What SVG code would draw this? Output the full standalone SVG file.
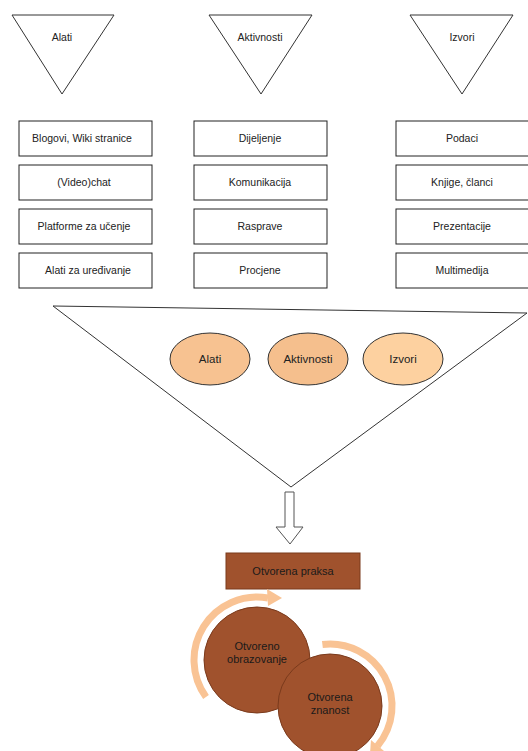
<svg xmlns="http://www.w3.org/2000/svg" width="528" height="751" viewBox="0 0 528 751">
<style>
.tri{fill:#fff;stroke:#333;stroke-width:1}
.box{fill:#fff;stroke:#222;stroke-width:1}
.t{font-family:"Liberation Sans",Arial,sans-serif;font-size:10.5px;fill:#222;text-anchor:middle}
.te{font-family:"Liberation Sans",Arial,sans-serif;font-size:11.5px;fill:#222;text-anchor:middle}
.tc{font-family:"Liberation Sans",Arial,sans-serif;font-size:11px;fill:#1a1a1a;text-anchor:middle}
.ell{stroke:#333;stroke-width:1}
.circ{fill:#A0522D;stroke:#7a3a1c;stroke-width:1}
.arc{fill:none;stroke:#F9C394;stroke-width:7}
.head{fill:#F9C394}
</style>
<rect width="528" height="751" fill="#fff"/>
<g id="tri-alati"><polygon class="tri" points="12,15 114,15 62,94"/><text class="t" x="62" y="41">Alati</text></g>
<g id="tri-aktivnosti"><polygon class="tri" points="209,15 312,15 261,94"/><text class="t" x="260" y="41">Aktivnosti</text></g>
<g id="tri-izvori"><polygon class="tri" points="410,15 513,15 462,94"/><text class="t" x="462" y="41">Izvori</text></g>

<g id="b1"><rect class="box" x="19" y="121" width="133" height="35"/><text class="t" x="82" y="142">Blogovi, Wiki stranice</text></g>
<g id="b2"><rect class="box" x="19" y="165" width="133" height="35"/><text class="t" x="84" y="186">(Video)chat</text></g>
<g id="b3"><rect class="box" x="19" y="209" width="133" height="35"/><text class="t" x="84" y="230">Platforme za učenje</text></g>
<g id="b4"><rect class="box" x="19" y="253" width="133" height="35"/><text class="t" x="88" y="274">Alati za uređivanje</text></g>

<g id="b5"><rect class="box" x="194" y="121" width="133" height="35"/><text class="t" x="260" y="142">Dijeljenje</text></g>
<g id="b6"><rect class="box" x="194" y="165" width="133" height="35"/><text class="t" x="260" y="186">Komunikacija</text></g>
<g id="b7"><rect class="box" x="194" y="209" width="133" height="35"/><text class="t" x="260" y="230">Rasprave</text></g>
<g id="b8"><rect class="box" x="194" y="253" width="133" height="35"/><text class="t" x="260" y="274">Procjene</text></g>

<g id="b9"><rect class="box" x="396" y="121" width="133" height="35"/><text class="t" x="462" y="142">Podaci</text></g>
<g id="b10"><rect class="box" x="396" y="165" width="133" height="35"/><text class="t" x="462" y="186">Knjige, članci</text></g>
<g id="b11"><rect class="box" x="396" y="209" width="133" height="35"/><text class="t" x="462" y="230">Prezentacije</text></g>
<g id="b12"><rect class="box" x="396" y="253" width="133" height="35"/><text class="t" x="462" y="274">Multimedija</text></g>

<g id="funnel"><polygon class="tri" points="53,306 527,313 291,487"/></g>
<g id="e-alati"><ellipse class="ell" cx="210" cy="359" rx="40" ry="26" fill="#F7C291"/><text class="te" x="210" y="363">Alati</text></g>
<g id="e-aktivnosti"><ellipse class="ell" cx="308" cy="359" rx="40" ry="26" fill="#F5BF8D"/><text class="te" x="308" y="363">Aktivnosti</text></g>
<g id="e-izvori"><ellipse class="ell" cx="403" cy="359" rx="40" ry="26" fill="#FDD1A0"/><text class="te" x="403" y="363">Izvori</text></g>

<g id="connectors">
<polygon points="285,492 294,492 294,527 303,527 290,544 276,527 285,527" fill="#fff" stroke="#555" stroke-width="1"/>
</g>

<g id="praksa"><rect x="226" y="553" width="134" height="36" fill="#A0522D" stroke="#7a3a1c" stroke-width="1"/><text class="tc" x="293" y="575">Otvorena praksa</text></g>

<g id="arcs">
<path class="arc" d="M206,697 A63,63 0 0 1 268,598"/>
<polygon class="head" points="267,589 268,606 282,598"/>
<path class="arc" d="M322.4,644.5 A62,62 0 0 1 377.5,745.9"/>
<polygon class="head" points="384,751 371,740 370,754"/>
</g>

<g id="c-obrazovanje"><circle class="circ" cx="257" cy="660" r="53"/><text class="tc" x="257" y="650">Otvoreno</text><text class="tc" x="257" y="663">obrazovanje</text></g>
<g id="c-znanost"><circle class="circ" cx="330" cy="706" r="52"/><text class="tc" x="330" y="701">Otvorena</text><text class="tc" x="330" y="714">znanost</text></g>
</svg>
